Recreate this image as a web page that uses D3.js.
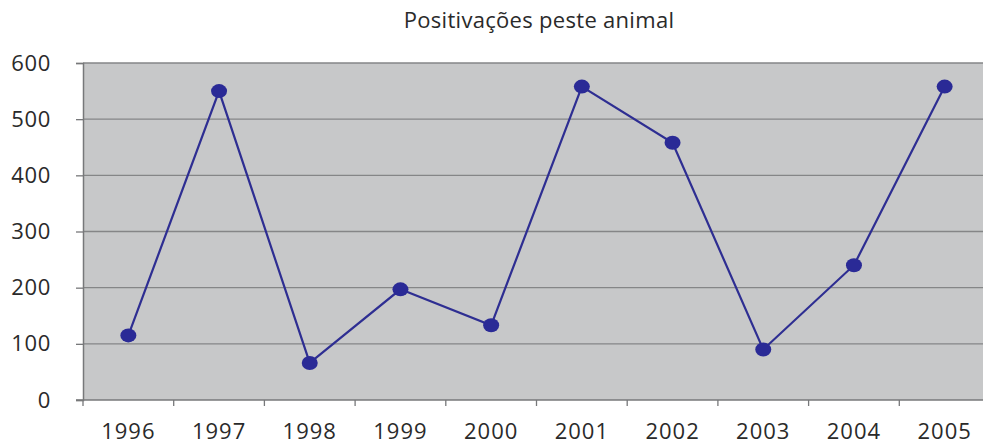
<!DOCTYPE html>
<html>
<head>
<meta charset="utf-8">
<script src="https://cdn.jsdelivr.net/npm/d3@7/dist/d3.min.js"></script>
<style>
  html, body { margin: 0; padding: 0; background: #ffffff; }
  svg { display: block; }
  text { font-family: "Open Sans", "Noto Sans", sans-serif; fill: #2a2a2a; }
</style>
</head>
<body>
<svg id="chart" width="983" height="446"></svg>
<script>
const title = "Positivações peste animal";
const years = ["1996", "1997", "1998", "1999", "2000", "2001", "2002", "2003", "2004", "2005"];
const positives = [115, 550, 66, 197, 133, 558, 458, 90, 240, 558];
const yTicks = [0, 100, 200, 300, 400, 500, 600];

const svg = d3.select("#chart");
const margin = { left: 83, top: 63, bottom: 46 };
const plotW = 907;
const plotH = 446 - margin.top - margin.bottom;
const labelFont = "'Open Sans', 'Noto Sans', sans-serif";

const x = d3.scaleBand().domain(years).range([0, plotW]).padding(0);
const y = d3.scaleLinear().domain([0, 600]).range([plotH, 0]);

svg.append("text")
  .attr("x", 539).attr("y", 28)
  .attr("text-anchor", "middle")
  .style("font-size", "22px")
  .style("letter-spacing", "0.3px")
  .text(title);

const g = svg.append("g").attr("transform", `translate(${margin.left},${margin.top})`);

// plot background
g.append("rect")
  .attr("x", 0).attr("y", 0)
  .attr("width", plotW).attr("height", plotH)
  .attr("fill", "#c7c8c9");

// horizontal gridlines
g.append("g")
  .selectAll("line")
  .data(yTicks.filter(d => d > 0))
  .join("line")
  .attr("x1", 0).attr("x2", plotW)
  .attr("y1", d => y(d)).attr("y2", d => y(d))
  .attr("stroke", "#858687").attr("stroke-width", 1.3);

// y axis
const yAxis = g.append("g")
  .call(d3.axisLeft(y).tickValues(yTicks).tickSize(7).tickPadding(25));
yAxis.select(".domain").attr("stroke", "#77787a").attr("stroke-width", 1.5);
yAxis.selectAll(".tick line").attr("stroke", "#77787a").attr("stroke-width", 1.3);
yAxis.selectAll(".tick text")
  .attr("fill", "#2a2a2a")
  .attr("font-size", 22)
  .attr("font-family", labelFont)
  .style("font-size", "22px")
  .style("letter-spacing", "0.7px");

// x axis
const xAxis = g.append("g")
  .attr("transform", `translate(0,${plotH})`)
  .call(d3.axisBottom(x).tickSize(0).tickPadding(23));
xAxis.select(".domain").remove();
xAxis.selectAll(".tick text")
  .attr("fill", "#2a2a2a")
  .attr("font-size", 22)
  .attr("font-family", labelFont)
  .style("font-size", "22px")
  .style("letter-spacing", "1px");

g.append("line")
  .attr("x1", -7).attr("x2", plotW)
  .attr("y1", plotH).attr("y2", plotH)
  .attr("stroke", "#77787a").attr("stroke-width", 1.5);

// category boundary ticks along the x axis
g.append("g")
  .selectAll("line")
  .data(years)
  .join("line")
  .attr("x1", d => x(d)).attr("x2", d => x(d))
  .attr("y1", plotH).attr("y2", plotH + 6)
  .attr("stroke", "#77787a").attr("stroke-width", 1.3);

// series line
const line = d3.line()
  .x((d, i) => x(years[i]) + x.bandwidth() / 2)
  .y(d => y(d));

g.append("path")
  .datum(positives)
  .attr("d", line)
  .attr("fill", "none")
  .attr("stroke", "#2e2e92")
  .attr("stroke-width", 2.2);

// markers
g.append("g")
  .selectAll("ellipse")
  .data(positives)
  .join("ellipse")
  .attr("cx", (d, i) => x(years[i]) + x.bandwidth() / 2)
  .attr("cy", d => y(d))
  .attr("rx", 8).attr("ry", 7)
  .attr("fill", "#2a2a96");
</script>
</body>
</html>
